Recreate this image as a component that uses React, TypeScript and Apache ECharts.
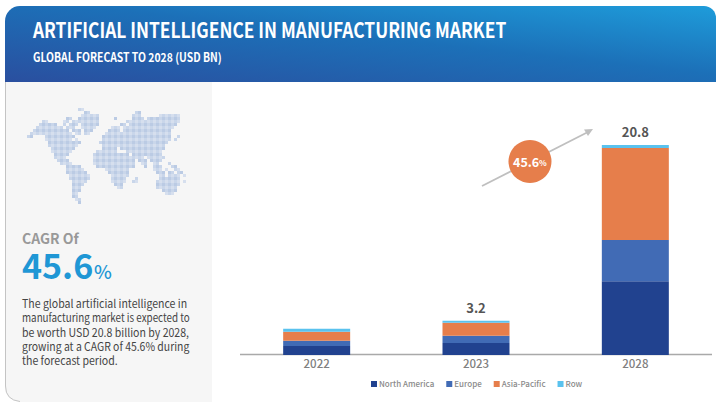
import React, { useEffect, useRef } from "react";
import * as echarts from "echarts";

const FONT = '"Noto Sans CJK SC", "Noto Sans", sans-serif';

const categories = ["2022", "2023", "2028"];
const northAmerica = [0.9, 1.2, 7.3];
const europe = [0.5, 0.7, 4.1];
const asiaPacific = [0.9, 1.3, 9.1];
const row = [0.3, 0.2, 0.3];
const totalLabels = ["", "3.2", "20.8"];
const seriesNames = ["North America", "Europe", "Asia-Pacific", "Row"];
const seriesColors = ["#21428f", "#416bb5", "#e67e4b", "#5ac2ee"];
const bodyLines = [
  "The global artificial intelligence in",
  "manufacturing market is expected to",
  "be worth USD 20.8 billion by 2028,",
  "growing at a CAGR of 45.6% during",
  "the forecast period.",
];
const bodyScales = [0.917, 0.855, 0.92, 0.908, 0.92];

// Decorative world map: column runs per row of the dotted pattern
const worldMapRuns = [
  "17-18", "19-20,36-37", "18-23,35-37,44-50", "13-14,17-23,29,35-38,40-50",
  "5-6,12-13,15-23,33-50", "4-9,12,14-16,18-23,31-32,34-49", "3-11,13-15,18-22,28-30,32-48",
  "2-13,15-17,19-21,27-30,32-47", "1-14,16-17,19-20,26-47", "0-1,6-15,25-47,50",
  "6-14,16,25-47,49", "7-17,24-46", "7-16,25-45", "8-15,25-29,31-45", "8-14,23-29,33-44",
  "9-13,22-33,35-44", "9-12,22-34,35-38,40-45", "10-13,22-35,37-39,41-44",
  "11-14,22-35,38-39,42-43,47", "13-17,23-35,39,42-44,48-49", "13-18,26-33,42-44,46,49-50",
  "13-19,27-33,43-45,47-48,50-51", "14-20,28-33,44-45,47-50,52", "14-20,28-32,36,44-50",
  "15-19,28-32,35-36,43-50,52", "15-18,29-31,43-50", "15-17,30-31,43-49", "15-17,45-49",
  "15-16,46-48", "15-16", "16-17", "17",
];
const plaidColors = ["#d6dfee", "#c9d6ea", "#bbcbe4"];

const mapCells: any[] = [];
worldMapRuns.forEach((runs, r) => {
  runs.split(",").forEach((run) => {
    const [a, b] = run.split("-").map(Number);
    for (let c = a; c <= (b ?? a); c++) {
      mapCells.push({
        type: "rect",
        shape: { x: 27 + c * 3, y: 108 + r * 3, width: 3, height: 3 },
        style: { fill: plaidColors[(r % 2) + (c % 2)] },
        silent: true,
      });
    }
  });
});

const txt = (x: number, y: number, text: string, size: number, weight: number, fill: string, lineHeight: number, extra: any = {}) => ({
  type: "text",
  x,
  y,
  silent: true,
  ...extra,
  style: { text, font: `${weight} ${size}px ${FONT}`, fill, verticalAlign: "middle", lineHeight },
});

export default function App() {
  const ref = useRef<HTMLDivElement>(null);
  useEffect(() => {
    document.body.style.margin = "0";
    echarts.graphic.registerShape(
      "panelEdge",
      echarts.graphic.extendPath("M5.5 82 L5.5 386 Q5.5 400 20 401.5", {}) as any
    );
    const chart = echarts.init(ref.current!, undefined, { renderer: "svg" });
    const data = [northAmerica, europe, asiaPacific, row];
    chart.setOption({
      animation: false,
      backgroundColor: "#ffffff",
      textStyle: { fontFamily: FONT },
      grid: { left: 237, right: 1, top: 145, bottom: 47 },
      legend: {
        left: 371,
        top: 380,
        itemWidth: 6,
        itemHeight: 6,
        itemGap: 12,
        icon: "rect",
        padding: 0,
        data: seriesNames,
        textStyle: { fontFamily: FONT, fontSize: 8, fontWeight: 500, color: "#8a8a8a", padding: [0, 0, 0, -3] },
      },
      xAxis: {
        type: "category",
        data: categories,
        axisLine: { show: false },
        axisTick: { show: false },
        axisLabel: { fontFamily: FONT, fontSize: 11.5, fontWeight: 500, color: "#808080", margin: 2 },
      },
      yAxis: { type: "value", min: 0, max: 20.8, show: false },
      series: seriesNames.map((name, i) => ({
        name,
        type: "bar",
        stack: "total",
        barWidth: 67,
        data: data[i],
        itemStyle: { color: seriesColors[i] },
        z: 5,
        label:
          i === 3
            ? {
                show: true,
                position: "top",
                distance: 7,
                fontFamily: FONT,
                fontSize: 13,
                fontWeight: 700,
                color: "#555555",
                formatter: (p: any) => totalLabels[p.dataIndex],
              }
            : { show: false },
      })),
      graphic: [
        {
          type: "rect",
          silent: true,
          shape: { x: 5, y: 6, width: 711, height: 76, r: [15, 12, 0, 0] },
          style: {
            fill: new echarts.graphic.LinearGradient(0, 1, 1, 0, [
              { offset: 0, color: "#2a4f9f" },
              { offset: 0.55, color: "#1c70b8" },
              { offset: 1, color: "#1e9cda" },
            ]),
          },
        },
        { type: "rect", silent: true, shape: { x: 5, y: 82, width: 207, height: 320, r: [0, 0, 0, 15] }, style: { fill: "#f6f6f6" } },
        { type: "panelEdge", silent: true, style: { fill: "none", stroke: "#c4c4c4", lineWidth: 1 } },
        ...mapCells,
        txt(33, 29, "ARTIFICIAL INTELLIGENCE IN MANUFACTURING MARKET", 21, 700, "#ffffff", 24, { scaleX: 0.827 }),
        txt(33, 57, "GLOBAL FORECAST TO 2028 (USD BN)", 12.5, 700, "#ffffff", 14, { scaleX: 0.83 }),
        txt(22, 238, "CAGR Of", 14, 700, "#999999", 14),
        txt(22, 264, "45.6", 34, 700, "#1f97d5", 34),
        txt(94, 270, "%", 19, 500, "#1f97d5", 20),
        ...bodyLines.map((l, i) => txt(22, 303 + i * 14.3, l, 11.5, 400, "#444444", 14, { scaleX: bodyScales[i] })),
        { type: "line", silent: true, shape: { x1: 240, y1: 354.5, x2: 712, y2: 354.5 }, style: { stroke: "#a9a9a9", lineWidth: 1.5 } },
        { type: "line", silent: true, shape: { x1: 482, y1: 186, x2: 588, y2: 132 }, style: { stroke: "#bfbfbf", lineWidth: 1.8 } },
        { type: "polygon", silent: true, shape: { points: [[593, 129], [584, 129.5], [588, 136]] }, style: { fill: "#bfbfbf" } },
        { type: "circle", silent: true, shape: { cx: 530, cy: 161.5, r: 21.5 }, style: { fill: "#e67e4b" } },
        txt(513, 161.5, "45.6", 12.5, 700, "#ffffff", 14),
        txt(539, 162.5, "%", 8, 700, "#ffffff", 9),
      ],
    });
    return () => chart.dispose();
  }, []);
  return <div ref={ref} style={{ position: "fixed", left: 0, top: 0, width: 716, height: 402 }} />;
}
